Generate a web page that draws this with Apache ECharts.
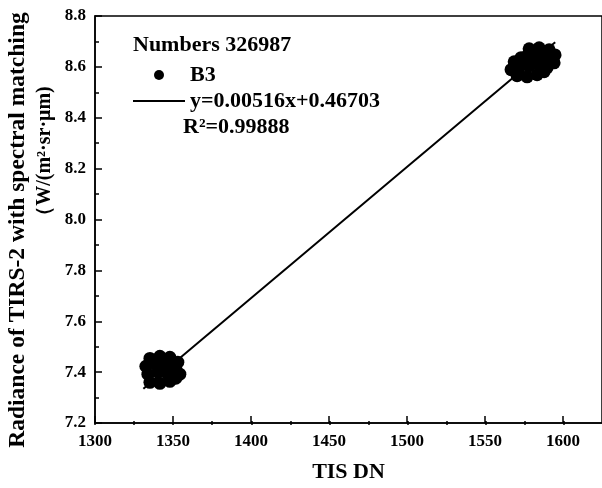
<!DOCTYPE html>
<html>
<head>
<meta charset="utf-8">
<script src="https://cdn.jsdelivr.net/npm/echarts@6/dist/echarts.min.js"></script>
<style>
  html, body { margin: 0; padding: 0; background: #fff; }
  #main { width: 602px; height: 488px; }
</style>
</head>
<body>
<div id="main"></div>
<script>
// 数据
var xTicks = [1300, 1350, 1400, 1450, 1500, 1550, 1600];
var yTicks = [7.2, 7.4, 7.6, 7.8, 8.0, 8.2, 8.4, 8.6, 8.8];

// 低值点团 (~1342 DN)
var lowX = [1335.2, 1341.6, 1348.0, 1353.1, 1332.6, 1339.0, 1345.4, 1351.8, 1354.4, 1333.9, 1340.3, 1346.7, 1335.2, 1341.6, 1348.0, 1351.8, 1343.0];
var lowY = [7.454, 7.462, 7.458, 7.439, 7.423, 7.431, 7.427, 7.415, 7.392, 7.392, 7.400, 7.392, 7.360, 7.356, 7.364, 7.376, 7.410];

// 高值点团 (~1580 DN)
var highX = [1578.3, 1584.7, 1591.1, 1594.9, 1576.3, 1583.4, 1589.8, 1594.3, 1568.7, 1566.7, 1571.9, 1578.3, 1584.7, 1589.8, 1570.6, 1577.0, 1583.4, 1587.9, 1573.1, 1580.0, 1586.0];
var highY = [8.671, 8.675, 8.667, 8.647, 8.640, 8.644, 8.636, 8.616, 8.620, 8.589, 8.597, 8.604, 8.608, 8.597, 8.565, 8.561, 8.569, 8.581, 8.636, 8.620, 8.625];

// 拟合直线端点
var fitX = [1331, 1595];
var fitY = [7.335, 8.697];

var fitLabel = 'y=0.00516x+0.46703';
var r2Label = 'R\u00b2=0.99888';
var countLabel = 'Numbers 326987';

function pairs(xs, ys) {
    return xs.map(function (x, i) { return [x, ys[i]]; });
}

var serif = '"Liberation Serif", "Times New Roman", serif';
var boldText = { fontFamily: serif, fontWeight: 'bold', color: '#000' };

var chart = echarts.init(document.getElementById('main'));

var option = {
    backgroundColor: '#fff',
    animation: false,
    title: {
        text: countLabel,
        left: 133,
        top: 34,
        padding: 0,
        textStyle: Object.assign({ fontSize: 22 }, boldText)
    },
    legend: {
        orient: 'vertical',
        left: 133,
        top: 64,
        padding: 0,
        itemWidth: 52,
        itemHeight: 10,
        itemGap: 4,
        symbolKeepAspect: true,
        data: [
            { name: 'B3', icon: 'circle', itemStyle: { color: '#000', opacity: 1 } },
            { name: fitLabel, icon: 'path://M0,0H52V2H0Z', itemStyle: { color: '#000' } }
        ],
        textStyle: Object.assign({ fontSize: 22 }, boldText)
    },
    graphic: [
        {
            type: 'text', left: 183, top: 116,
            style: { text: r2Label, fontSize: 22, fontFamily: serif, fontWeight: 'bold', fill: '#000' }
        },
        {
            type: 'text', x: 18, y: 230, rotation: Math.PI / 2,
            style: { text: 'Radiance of TIRS-2 with spectral matching', fontSize: 23.5, fontFamily: serif, fontWeight: 'bold', fill: '#000', align: 'center', verticalAlign: 'middle' }
        },
        {
            type: 'text', x: 45, y: 156, rotation: Math.PI / 2,
            style: { text: '\uff08W/(m\u00b2\u00b7sr\u00b7\u03bcm)', fontSize: 20, fontFamily: serif, fontWeight: 'bold', fill: '#000', align: 'center', verticalAlign: 'middle' }
        }
    ],
    grid: [
        { left: 95, right: -1, top: 16, bottom: 63, show: true, borderColor: '#000', borderWidth: 1.5, backgroundColor: 'transparent' },
        // 用于次刻度（1325 ... 1575）
        { left: 95, right: 38.1, top: 16, bottom: 63 }
    ],
    xAxis: [
        {
            type: 'value',
            gridIndex: 0,
            min: 1300,
            max: 1625,
            interval: 50,
            name: 'TIS DN',
            nameLocation: 'middle',
            nameGap: 38,
            nameTextStyle: Object.assign({ fontSize: 22 }, boldText),
            axisLine: { lineStyle: { color: '#000', width: 1.5 } },
            axisTick: { inside: true, length: 7, lineStyle: { color: '#000', width: 1.5 } },
            axisLabel: {
                margin: 10,
                fontSize: 17,
                fontFamily: serif,
                fontWeight: 'bold',
                color: '#000',
                showMaxLabel: false,
                formatter: function (v) { return xTicks.indexOf(v) >= 0 ? String(v) : ''; }
            },
            splitLine: { show: false }
        },
        {
            type: 'value',
            gridIndex: 1,
            min: 1300,
            max: 1600,
            interval: 25,
            axisLine: { show: false },
            axisTick: { inside: true, length: 4, lineStyle: { color: '#000', width: 1.5 } },
            axisLabel: { show: false },
            splitLine: { show: false }
        }
    ],
    yAxis: [
        {
            type: 'value',
            gridIndex: 0,
            min: 7.2,
            max: 8.8,
            interval: 0.2,
            axisLine: { show: true, lineStyle: { color: '#000', width: 1.5 } },
            axisTick: { show: true, inside: true, length: 7, lineStyle: { color: '#000', width: 1.5 } },
            minorTick: { show: true, splitNumber: 2, length: 4, lineStyle: { color: '#000', width: 1.5 } },
            axisLabel: {
                margin: 9,
                fontSize: 17,
                fontFamily: serif,
                fontWeight: 'bold',
                color: '#000',
                formatter: function (v) { return v.toFixed(1); }
            },
            splitLine: { show: false }
        },
        { type: 'value', gridIndex: 1, min: 0, max: 1, show: false }
    ],
    series: [
        {
            name: 'B3',
            type: 'scatter',
            symbol: 'circle',
            symbolSize: 13,
            itemStyle: { color: '#000', opacity: 1, borderWidth: 0 },
            emphasis: { disabled: true },
            data: pairs(lowX, lowY).concat(pairs(highX, highY))
        },
        {
            name: fitLabel,
            type: 'line',
            symbol: 'none',
            lineStyle: { color: '#000', width: 2 },
            itemStyle: { color: '#000' },
            data: pairs(fitX, fitY)
        }
    ]
};

chart.setOption(option);
</script>
</body>
</html>
